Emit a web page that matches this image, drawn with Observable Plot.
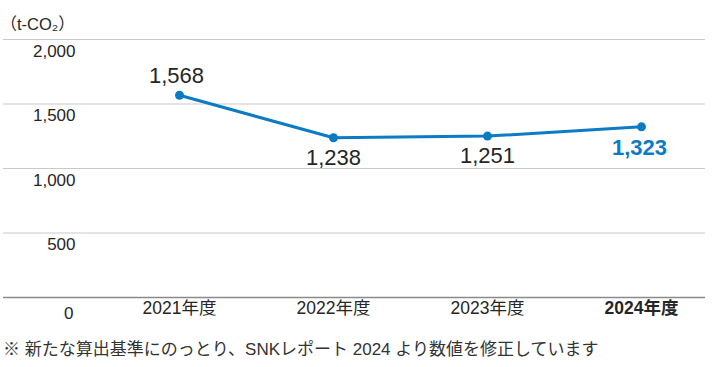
<!DOCTYPE html>
<html><head><meta charset="utf-8">
<script src="https://cdn.jsdelivr.net/npm/d3@7"></script>
<script src="https://cdn.jsdelivr.net/npm/@observablehq/plot@0.6"></script>
<style>
body{margin:0;background:#fff;font-family:"Liberation Sans","Noto Sans CJK JP",sans-serif;}
#cap{font-size:17px;color:#333;margin:9px 0 0 3px;line-height:22px;white-space:nowrap;}
</style></head>
<body><div id="chart"></div><div id="cap">※ 新たな算出基準にのっとり、SNKレポート 2024 より数値を修正しています</div>
<script>
const years = ["2021年度","2022年度","2023年度","2024年度"];
const emissions = [1568,1238,1251,1323];
const yTicks = [0,500,1000,1500,2000];
const unitLabel = "（t-CO₂）";
const latest = "2024年度";

const data = years.map((y,i)=>({year:y, value:emissions[i]}));
const fmt = d3.format(",");
const blue = "#0b7bc4";
const ink = "#262626";

const chart = Plot.plot({
  width:712, height:330,
  marginLeft:3, marginRight:7, marginTop:39, marginBottom:33,
  style:{fontFamily:'"Liberation Sans","Noto Sans CJK JP",sans-serif', background:"#fff"},
  x:{type:"point", domain:years, padding:0, insetLeft:175, insetRight:63, axis:null},
  y:{domain:[0,2000], axis:null},
  marks:[
    Plot.ruleY(yTicks.filter(d=>d>0), {stroke:"#c9c9c9", strokeWidth:1.2}),
    Plot.ruleY([0], {stroke:"#8a8a8a", strokeWidth:1.6}),
    Plot.text(yTicks.filter(d=>d>0), {y:d=>d, text:d=>fmt(d), frameAnchor:"left", textAnchor:"end", dx:72, dy:12, fontSize:17, fill:ink}),
    Plot.text([0], {y:d=>d, text:d=>fmt(d), frameAnchor:"left", textAnchor:"end", dx:70, dy:16, fontSize:17, fill:ink}),
    Plot.text(years.filter(d=>d!==latest), {x:d=>d, text:d=>d, frameAnchor:"bottom", dy:16, fontSize:17.5, fill:ink}),
    Plot.text([latest], {x:d=>d, text:d=>d, frameAnchor:"bottom", dy:16, fontSize:17.5, fontWeight:"bold", fill:ink}),
    Plot.text([unitLabel], {frameAnchor:"top-left", text:d=>d, textAnchor:"start", dx:-3, dy:-21, fontSize:16.5, fill:ink}),
    Plot.line(data, {x:"year", y:"value", stroke:blue, strokeWidth:3}),
    Plot.dot(data, {x:"year", y:"value", r:4.5, fill:blue, stroke:"none"}),
    Plot.text(data.filter((d,i)=>i===0), {x:"year", y:"value", text:d=>fmt(d.value), dy:-19, dx:-3, fontSize:22, fill:ink}),
    Plot.text(data.filter((d,i)=>i>0 && d.year!==latest), {x:"year", y:"value", text:d=>fmt(d.value), dy:20, fontSize:22, fill:ink}),
    Plot.text(data.filter(d=>d.year===latest), {x:"year", y:"value", text:d=>fmt(d.value), dy:21, dx:-2, fontSize:22, fontWeight:"bold", fill:blue})
  ]
});
document.getElementById("chart").append(chart);
</script></body></html>
